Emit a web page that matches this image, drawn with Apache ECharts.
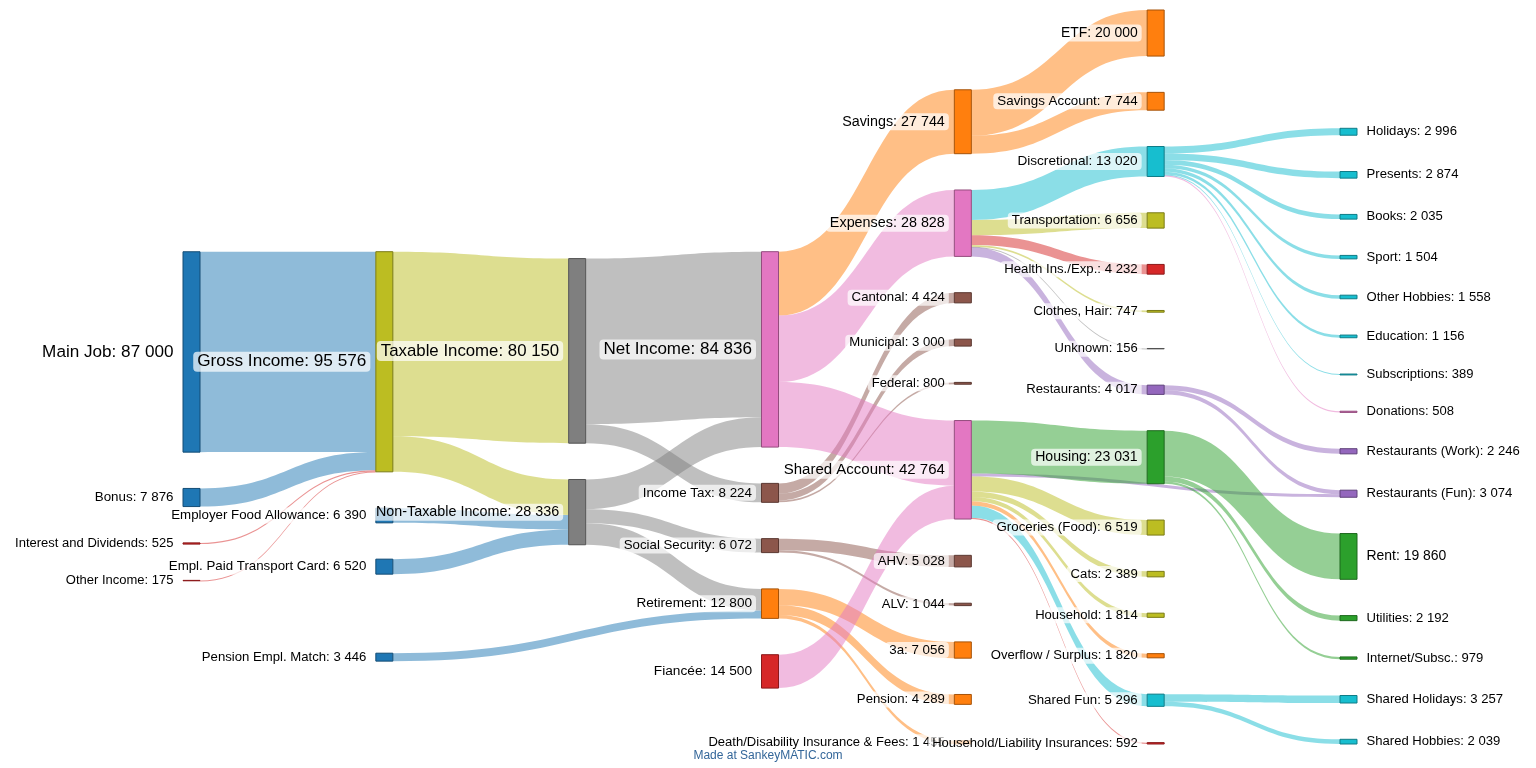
<!DOCTYPE html>
<html>
<head>
<meta charset="utf-8">
<script src="https://cdn.jsdelivr.net/npm/echarts@6/dist/echarts.min.js"></script>
<style>
  html, body { margin: 0; padding: 0; background: #fff; }
  #chart { width: 1536px; height: 768px; }
</style>
</head>
<body>
<div id="chart"></div>
<script>
// nodes, column by column (depth = column index)
const nodeNames = [
  'Main Job', 'Bonus', 'Interest and Dividends', 'Other Income',
  'Pension Empl. Match', 'Employer Food Allowance', 'Empl. Paid Transport Card', 'Gross Income',
  'Non-Taxable Income', 'Taxable Income',
  'Retirement', 'Social Security', 'Income Tax', 'Net Income', 'Fiancée',
  'Pension', 'Death/Disability Insurance & Fees', '3a', 'AHV', 'ALV', 'Federal', 'Cantonal', 'Municipal',
  'Savings', 'Expenses', 'Shared Account',
  'Savings Account', 'ETF', 'Discretional', 'Transportation', 'Health Ins./Exp.', 'Clothes, Hair', 'Unknown',
  'Restaurants', 'Housing', 'Groceries (Food)', 'Cats', 'Household', 'Household/Liability Insurances',
  'Shared Fun', 'Overflow / Surplus',
  'Holidays', 'Presents', 'Books', 'Sport', 'Other Hobbies', 'Education', 'Subscriptions', 'Donations',
  'Restaurants (Work)', 'Restaurants (Fun)', 'Rent', 'Utilities', 'Internet/Subsc.',
  'Shared Hobbies', 'Shared Holidays'
]
const nodeDepths = [
  0, 0, 0, 0,
  1, 1, 1, 1,
  2, 2,
  3, 3, 3, 3, 3,
  4, 4, 4, 4, 4, 4, 4, 4,
  4, 4, 4,
  5, 5, 5, 5, 5, 5, 5,
  5, 5, 5, 5, 5, 5,
  5, 5,
  6, 6, 6, 6, 6, 6, 6, 6,
  6, 6, 6, 6, 6,
  6, 6
]

// flows
const linkSources = [
  'Main Job', 'Bonus', 'Interest and Dividends', 'Other Income',
  'Gross Income', 'Gross Income', 'Employer Food Allowance', 'Empl. Paid Transport Card',
  'Pension Empl. Match', 'Non-Taxable Income', 'Non-Taxable Income', 'Non-Taxable Income',
  'Taxable Income', 'Taxable Income',
  'Retirement', 'Retirement', 'Retirement',
  'Social Security', 'Social Security',
  'Income Tax', 'Income Tax', 'Income Tax',
  'Net Income', 'Net Income', 'Net Income', 'Fiancée',
  'Savings', 'Savings',
  'Expenses', 'Expenses', 'Expenses', 'Expenses', 'Expenses', 'Expenses',
  'Shared Account', 'Shared Account', 'Shared Account', 'Shared Account', 'Shared Account',
  'Shared Account', 'Shared Account', 'Shared Account',
  'Discretional', 'Discretional', 'Discretional', 'Discretional', 'Discretional',
  'Discretional', 'Discretional', 'Discretional',
  'Restaurants', 'Restaurants',
  'Housing', 'Housing', 'Housing',
  'Shared Fun', 'Shared Fun'
]
const linkTargets = [
  'Gross Income', 'Gross Income', 'Gross Income', 'Gross Income',
  'Non-Taxable Income', 'Taxable Income', 'Non-Taxable Income', 'Non-Taxable Income',
  'Retirement', 'Retirement', 'Social Security', 'Net Income',
  'Income Tax', 'Net Income',
  'Pension', 'Death/Disability Insurance & Fees', '3a',
  'AHV', 'ALV',
  'Federal', 'Cantonal', 'Municipal',
  'Savings', 'Expenses', 'Shared Account', 'Shared Account',
  'Savings Account', 'ETF',
  'Discretional', 'Transportation', 'Health Ins./Exp.', 'Clothes, Hair', 'Unknown', 'Restaurants',
  'Restaurants (Fun)', 'Housing', 'Groceries (Food)', 'Cats', 'Household',
  'Household/Liability Insurances', 'Shared Fun', 'Overflow / Surplus',
  'Holidays', 'Presents', 'Books', 'Sport', 'Other Hobbies',
  'Education', 'Subscriptions', 'Donations',
  'Restaurants (Work)', 'Restaurants (Fun)',
  'Rent', 'Utilities', 'Internet/Subsc.',
  'Shared Hobbies', 'Shared Holidays'
]
const linkValues = [
  87000, 7876, 525, 175,
  15426, 80150, 6390, 6520,
  3446, 9354, 6072, 12910,
  8224, 71926,
  4289, 1455, 7056,
  5028, 1044,
  800, 4424, 3000,
  27744, 28828, 28264, 14500,
  7744, 20000,
  13020, 6656, 4232, 747, 156, 4017,
  1303, 23031, 6519, 2389, 1814,
  592, 5296, 1820,
  2996, 2874, 2035, 1504, 1558,
  1156, 389, 508,
  2246, 1771,
  19860, 2192, 979,
  2039, 3257
]

// styling
const C = {
  blue: '#1f77b4', orange: '#ff7f0e', green: '#2ca02c', red: '#d62728', purple: '#9467bd',
  brown: '#8c564b', pink: '#e377c2', gray: '#7f7f7f', olive: '#bcbd22', cyan: '#17becf'
}
const colorOf = {
  'Main Job': C.blue, 'Bonus': C.blue, 'Interest and Dividends': C.red, 'Other Income': C.red,
  'Pension Empl. Match': C.blue, 'Employer Food Allowance': C.blue, 'Empl. Paid Transport Card': C.blue,
  'Gross Income': C.olive, 'Non-Taxable Income': C.gray, 'Taxable Income': C.gray,
  'Retirement': C.orange, 'Social Security': C.brown, 'Income Tax': C.brown, 'Net Income': C.pink, 'Fiancée': C.red,
  'Pension': C.orange, 'Death/Disability Insurance & Fees': C.orange, '3a': C.orange,
  'AHV': C.brown, 'ALV': C.brown, 'Federal': C.brown, 'Cantonal': C.brown, 'Municipal': C.brown,
  'Savings': C.orange, 'Expenses': C.pink, 'Shared Account': C.pink,
  'Savings Account': C.orange, 'ETF': C.orange, 'Discretional': C.cyan, 'Transportation': C.olive,
  'Health Ins./Exp.': C.red, 'Clothes, Hair': C.olive, 'Unknown': C.gray, 'Restaurants': C.purple,
  'Housing': C.green, 'Groceries (Food)': C.olive, 'Cats': C.olive, 'Household': C.olive,
  'Household/Liability Insurances': C.red, 'Shared Fun': C.cyan, 'Overflow / Surplus': C.orange,
  'Holidays': C.cyan, 'Presents': C.cyan, 'Books': C.cyan, 'Sport': C.cyan, 'Other Hobbies': C.cyan,
  'Education': C.cyan, 'Subscriptions': C.cyan, 'Donations': C.pink,
  'Restaurants (Work)': C.purple, 'Restaurants (Fun)': C.purple,
  'Rent': C.green, 'Utilities': C.green, 'Internet/Subsc.': C.green,
  'Shared Hobbies': C.cyan, 'Shared Holidays': C.cyan
}

function darker (hex) {
  let n = parseInt(hex.slice(1), 16)
  let r = Math.round(((n >> 16) & 255) * 0.65)
  let g = Math.round(((n >> 8) & 255) * 0.65)
  let b = Math.round((n & 255) * 0.65)
  return 'rgb(' + r + ',' + g + ',' + b + ')'
}

function fmt (v) {
  return String(v).replace(/\B(?=(\d{3})+(?!\d))/g, ' ')
}

// node totals (max of in / out), used for label size
let inSum = {}
let outSum = {}
linkValues.forEach((v, i) => {
  outSum[linkSources[i]] = (outSum[linkSources[i]] || 0) + v
  inSum[linkTargets[i]] = (inSum[linkTargets[i]] || 0) + v
})
const depthOf = {}
nodeNames.forEach((n, i) => { depthOf[n] = nodeDepths[i] })

let nodes = nodeNames.map((name, i) => {
  let total = Math.max(inSum[name] || 0, outSum[name] || 0)
  let last = nodeDepths[i] === 6
  return {
    name: name,
    depth: nodeDepths[i],
    itemStyle: { color: colorOf[name], borderColor: darker(colorOf[name]), borderWidth: 1 },
    label: {
      position: last ? 'right' : 'left',
      fontSize: 13 + Math.min(total, 88000) / 21000
    }
  }
})

let links = linkValues.map((v, i) => {
  let s = linkSources[i]
  let t = linkTargets[i]
  // outside-in colouring: left half takes the source colour, right half the target colour
  let col = depthOf[s] < 3 ? colorOf[s] : colorOf[t]
  return { source: s, target: t, value: v, lineStyle: { color: col } }
})

let chart = echarts.init(document.getElementById('chart'))

let option = {
  backgroundColor: '#fff',
  animation: false,
  title: {
    text: 'Made at SankeyMATIC.com',
    left: 'center',
    bottom: 1,
    textStyle: { fontSize: 12, fontWeight: 'normal', color: '#336699', fontFamily: 'Liberation Sans, Arial, sans-serif' }
  },
  series: [
    {
      type: 'sankey',
      left: 183,
      right: 179,
      top: 10,
      bottom: 24,
      nodeWidth: 17,
      nodeGap: 36.3,
      nodeAlign: 'left',
      layoutIterations: 32,
      draggable: false,
      emphasis: { disabled: true },
      data: nodes,
      links: links,
      lineStyle: { opacity: 0.5, curveness: 0.5 },
      label: {
        color: '#000',
        fontFamily: 'Liberation Sans, Arial, sans-serif',
        distance: 5,
        backgroundColor: 'rgba(255,255,255,0.7)',
        borderRadius: 4,
        padding: [2, 4, 1, 4],
        formatter: function (p) {
          return p.name + ': ' + fmt(p.value)
        }
      }
    }
  ]
}

chart.setOption(option)
</script>
</body>
</html>
